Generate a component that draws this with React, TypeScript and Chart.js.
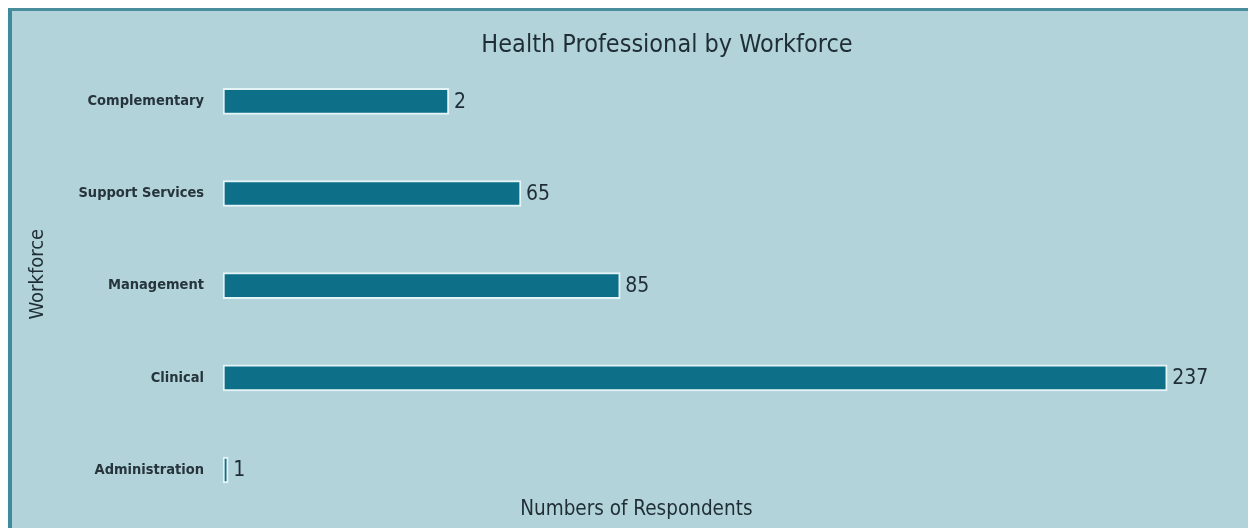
import React, { useEffect, useRef } from "react";
import { Chart, registerables } from "chart.js";

Chart.register(...registerables);

const categories = ["Complementary", "Support Services", "Management", "Clinical", "Administration"];
// bar lengths as drawn in the picture (respondent units, scaled so Clinical = 237)
const barLengths = [56.7, 74.8, 99.7, 237, 1.3];
// numbers printed next to each bar
const labelValues = ["2", "65", "85", "237", "1"];

const chartTitle = "Health Professional by Workforce";
const xTitle = "Numbers of Respondents";
const yTitle = "Workforce";

const FONT = "'Liberation Sans Narrow', 'DejaVu Sans Condensed', 'Roboto Condensed', sans-serif";
const TEXT = "#1f2d36";

const valueLabels = {
  id: "valueLabels",
  afterDatasetsDraw(chart: any) {
    const ctx = chart.ctx;
    const meta = chart.getDatasetMeta(0);
    ctx.save();
    ctx.font = `normal 21px ${FONT}`;
    ctx.fillStyle = TEXT;
    ctx.textAlign = "left";
    ctx.textBaseline = "middle";
    meta.data.forEach((bar: any, i: number) => {
      ctx.fillText(labelValues[i], bar.x + 5, bar.y + 1);
    });
    ctx.restore();
  },
};

// x-axis title, drawn inside the space reserved by the x scale
const xAxisTitle = {
  id: "xAxisTitle",
  afterDraw(chart: any) {
    const ctx = chart.ctx;
    const x = chart.scales.x;
    ctx.save();
    ctx.font = `normal 20.5px ${FONT}`;
    ctx.fillStyle = TEXT;
    ctx.textAlign = "center";
    ctx.textBaseline = "middle";
    ctx.fillText(xTitle, x.left + 0.415 * (x.right - x.left), x.bottom - 18);
    ctx.restore();
  },
};

export default function App() {
  const ref = useRef<HTMLCanvasElement | null>(null);

  useEffect(() => {
    if (!ref.current) return;
    Chart.defaults.font.family = FONT;
    const chart = new Chart(ref.current, {
      type: "bar",
      data: {
        datasets: [
          {
            data: barLengths.map((v, i) => ({ x: v, y: i })),
            backgroundColor: "#0d6f88",
            borderColor: "#e4f4f7",
            borderWidth: 2,
            borderSkipped: false,
            barThickness: 26,
          },
        ],
      },
      options: {
        indexAxis: "y",
        animation: false,
        responsive: false,
        layout: { padding: 0 },
        plugins: {
          legend: { display: false },
          tooltip: { enabled: false },
          title: {
            display: true,
            text: chartTitle,
            color: TEXT,
            font: { size: 25, weight: "normal", family: FONT },
            padding: { top: 19, bottom: 2.4 },
          },
        },
        scales: {
          x: {
            type: "linear",
            min: 0,
            max: 250,
            grid: { display: false, drawTicks: false },
            border: { display: false },
            ticks: { display: false },
            title: { display: false },
            afterFit(scale: any) {
              scale.height = 42;
            },
          },
          y: {
            type: "linear",
            reverse: true,
            offset: false,
            min: -0.4228,
            max: 4.1734,
            grid: { display: false, drawTicks: false, tickLength: 0, offset: false },
            border: { display: false },
            afterBuildTicks(scale: any) {
              scale.ticks = categories.map((_, i) => ({ value: i }));
            },
            ticks: {
              autoSkip: false,
              padding: 19,
              color: "#26343c",
              font: { size: 14.5, weight: "bold", family: FONT },
              callback: (v: any) => categories[v as number],
            },
            title: {
              display: true,
              text: yTitle,
              color: TEXT,
              font: { size: 20, weight: "normal", family: FONT },
              padding: { top: 14, bottom: 0 },
            },
            afterFit(scale: any) {
              scale.width = 211;
            },
          },
          yRight: {
            type: "linear",
            axis: "y",
            position: "right",
            display: true,
            grid: { display: false, drawTicks: false },
            border: { display: false },
            ticks: { display: false },
            afterFit(scale: any) {
              scale.width = 103;
            },
          },
        },
      },
      plugins: [valueLabels, xAxisTitle],
    } as any);
    return () => chart.destroy();
  }, []);

  return (
    <div
      style={{
        marginRight: -8,
        height: 520,
        boxSizing: "border-box",
        background: "#b3d3da",
        borderTop: "3px solid #4a8e9e",
        borderLeft: "4px solid #3f8a9c",
        overflow: "hidden",
      }}
    >
      <canvas ref={ref} width={1310} height={517} style={{ display: "block" }} />
    </div>
  );
}
